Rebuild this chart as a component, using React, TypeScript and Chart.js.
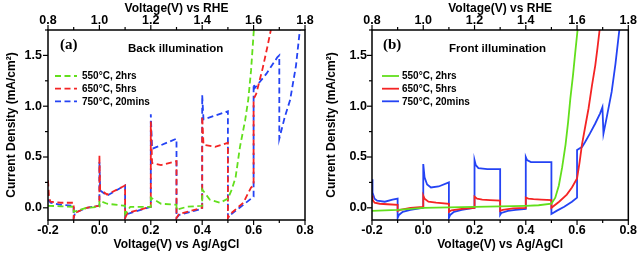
import React, { useEffect, useRef } from 'react';
import { Chart, registerables } from 'chart.js';
Chart.register(...registerables);

// ---------- shared labels / ticks ----------
const SERIES_LABELS = ['550°C, 2hrs', '650°C, 5hrs', '750°C, 20mins'];
const SERIES_COLORS = ['#62df1c', '#f42424', '#2443f4'];
const X_TICKS_AGCL = [-0.2, 0.0, 0.2, 0.4, 0.6, 0.8];
const X_TICKS_RHE = [0.8, 1.0, 1.2, 1.4, 1.6, 1.8];
const Y_TICKS = [0.0, 0.5, 1.0, 1.5];
const X_TITLE_BOTTOM = 'Voltage(V) vs Ag/AgCl';
const X_TITLE_TOP = 'Voltage(V) vs RHE';
const Y_TITLE = 'Current Density (mA/cm²)';

// ---------- (a) Back illumination ----------
const backX550 = [-0.2, -0.15, -0.1, -0.1, -0.05, 0.0, 0.0, 0.03, 0.1, 0.1, 0.12, 0.2, 0.2, 0.24, 0.3, 0.3, 0.34, 0.4, 0.4, 0.43, 0.47, 0.5, 0.515, 0.53, 0.547, 0.567, 0.579, 0.59, 0.601];
const backY550 = [0.02, 0.015, 0.01, -0.04, 0.0, 0.01, 0.07, 0.04, 0.02, -0.06, 0.01, 0.01, 0.1, 0.04, 0.03, -0.02, 0.01, 0.02, 0.18, 0.08, 0.05, 0.09, 0.18, 0.3, 0.6, 0.86, 1.06, 1.35, 1.75];
const backX650 = [-0.2, -0.196, -0.19, -0.15, -0.1, -0.1, -0.095, -0.05, 0.0, 0.0, 0.003, 0.03, 0.1, 0.1, 0.11, 0.2, 0.2, 0.205, 0.24, 0.3, 0.3, 0.31, 0.4, 0.4, 0.405, 0.45, 0.5, 0.5, 0.51, 0.56, 0.59, 0.6, 0.6, 0.61, 0.635, 0.655, 0.667];
const backY650 = [0.27, 0.1, 0.06, 0.05, 0.05, -0.1, -0.05, 0.0, 0.02, 0.52, 0.18, 0.13, 0.22, -0.1, -0.05, 0.01, 0.85, 0.44, 0.42, 0.46, -0.1, -0.06, 0.0, 0.9, 0.62, 0.6, 0.64, -0.1, -0.06, 0.05, 0.2, 0.22, 1.07, 1.12, 1.37, 1.6, 1.75];
const backX750 = [-0.2, -0.19, -0.15, -0.1, -0.1, -0.095, -0.05, 0.0, 0.0, 0.003, 0.03, 0.1, 0.1, 0.11, 0.2, 0.2, 0.205, 0.3, 0.3, 0.31, 0.4, 0.4, 0.405, 0.5, 0.5, 0.51, 0.57, 0.6, 0.6, 0.605, 0.65, 0.692, 0.7, 0.7, 0.722, 0.742, 0.765, 0.78];
const backY750 = [0.08, 0.05, 0.03, 0.02, -0.1, -0.05, 0.0, 0.02, 0.45, 0.17, 0.12, 0.22, -0.1, -0.06, 0.01, 0.92, 0.58, 0.68, -0.1, -0.07, -0.01, 1.11, 0.87, 0.95, -0.1, -0.07, 0.05, 0.11, 1.22, 1.18, 1.32, 1.48, 1.5, 0.68, 0.9, 1.06, 1.4, 1.75];

// ---------- (b) Front illumination ----------
const frontX550 = [-0.2, -0.1, 0.0, 0.1, 0.2, 0.3, 0.4, 0.45, 0.5, 0.515, 0.529, 0.542, 0.555, 0.565, 0.574, 0.584, 0.593, 0.602];
const frontY550 = [-0.03, -0.02, 0.0, 0.005, 0.01, 0.015, 0.02, 0.025, 0.04, 0.1, 0.22, 0.4, 0.62, 0.84, 1.08, 1.3, 1.53, 1.75];
const frontX650 = [-0.2, -0.198, -0.19, -0.17, -0.14, -0.1, -0.1, -0.09, -0.05, 0.0, 0.0, 0.005, 0.02, 0.05, 0.1, 0.1, 0.11, 0.15, 0.2, 0.2, 0.21, 0.23, 0.26, 0.3, 0.3, 0.31, 0.35, 0.4, 0.4, 0.41, 0.43, 0.46, 0.5, 0.5, 0.53, 0.56, 0.58, 0.6, 0.61, 0.619, 0.632, 0.645, 0.658, 0.671, 0.68, 0.688];
const frontY650 = [0.12, 0.08, 0.05, 0.04, 0.035, 0.03, -0.03, -0.02, 0.0, 0.01, 0.12, 0.09, 0.06, 0.05, 0.04, -0.04, -0.025, -0.01, 0.0, 0.11, 0.09, 0.08, 0.075, 0.07, -0.03, -0.02, -0.005, 0.0, 0.1, 0.09, 0.085, 0.08, 0.075, 0.0, 0.06, 0.13, 0.2, 0.29, 0.45, 0.62, 0.8, 0.98, 1.2, 1.4, 1.58, 1.75];
const frontX750 = [-0.2, -0.198, -0.19, -0.18, -0.15, -0.12, -0.1, -0.1, -0.095, -0.08, -0.05, 0.0, 0.0, 0.005, 0.015, 0.03, 0.06, 0.1, 0.1, 0.105, 0.12, 0.15, 0.2, 0.2, 0.205, 0.215, 0.25, 0.3, 0.3, 0.305, 0.33, 0.36, 0.4, 0.4, 0.405, 0.42, 0.5, 0.5, 0.52, 0.55, 0.58, 0.6, 0.6, 0.62, 0.632, 0.65, 0.671, 0.69, 0.699, 0.703, 0.715, 0.735, 0.75, 0.765];
const frontY750 = [0.28, 0.15, 0.09, 0.07, 0.06, 0.08, 0.09, -0.1, -0.07, -0.04, -0.02, 0.0, 0.43, 0.3, 0.23, 0.2, 0.21, 0.25, -0.1, -0.07, -0.04, -0.02, 0.0, 0.47, 0.42, 0.39, 0.38, 0.38, -0.07, -0.05, -0.03, -0.02, -0.01, 0.5, 0.47, 0.45, 0.45, -0.06, -0.03, 0.01, 0.06, 0.1, 0.57, 0.6, 0.65, 0.73, 0.83, 0.93, 0.99, 0.73, 0.88, 1.14, 1.42, 1.75];

const FONT = 'Liberation Sans';

function zip(xs: number[], ys: number[]) {
  return xs.map((x, i) => ({ x, y: ys[i] }));
}

function fmt(v: number) {
  if (Math.abs(v) < 1e-9) return '0.0';
  return Number(v).toFixed(1);
}

type PanelProps = {
  left: number;
  xs: number[][];
  ys: number[][];
  dashed: boolean;
  tag: string;
  heading: string;
  headingX: number;
  tagX: number;
  legendLine: [number, number];
  yWidth: number;
  padRight: number;
  yTickPad: number;
};

function Panel(p: PanelProps) {
  const ref = useRef<HTMLCanvasElement | null>(null);
  useEffect(() => {
    if (!ref.current) return;
    const datasets = p.xs.map((xs, i) => ({
      label: SERIES_LABELS[i],
      data: zip(xs, p.ys[i]),
      borderColor: SERIES_COLORS[i],
      backgroundColor: SERIES_COLORS[i],
      borderWidth: 1.8,
      borderDash: p.dashed ? [6, 3.5] : [],
      pointRadius: 0,
      tension: 0,
      xAxisID: 'x',
      yAxisID: 'y',
    }));

    const deco = {
      id: 'deco',
      afterDraw(chart: any) {
        const { ctx, chartArea: a, scales } = chart;
        ctx.save();
        ctx.strokeStyle = '#000';
        ctx.setLineDash([]);
        ctx.lineWidth = 1.5;
        ctx.strokeRect(a.left, a.top, a.right - a.left, a.bottom - a.top);
        ctx.lineWidth = 1.2;
        const seg = (x1: number, y1: number, x2: number, y2: number) => {
          ctx.beginPath();
          ctx.moveTo(x1, y1);
          ctx.lineTo(x2, y2);
          ctx.stroke();
        };
        for (let i = 0; i < X_TICKS_AGCL.length; i++) {
          const v = X_TICKS_AGCL[i];
          const px = scales.x.getPixelForValue(v);
          seg(px, a.bottom, px, a.bottom + 5);
          if (i < X_TICKS_AGCL.length - 1) {
            const m = scales.x.getPixelForValue((v + X_TICKS_AGCL[i + 1]) / 2);
            seg(m, a.bottom, m, a.bottom + 3);
          }
        }
        for (let i = 0; i < X_TICKS_RHE.length; i++) {
          const v = X_TICKS_RHE[i];
          const px = scales.x2.getPixelForValue(v);
          seg(px, a.top, px, a.top - 5);
          if (i < X_TICKS_RHE.length - 1) {
            const m = scales.x2.getPixelForValue((v + X_TICKS_RHE[i + 1]) / 2);
            seg(m, a.top, m, a.top - 3);
          }
        }
        for (let i = 0; i < Y_TICKS.length; i++) {
          const v = Y_TICKS[i];
          const py = scales.y.getPixelForValue(v);
          seg(a.left - 5, py, a.left, py);
          const m = scales.y.getPixelForValue(v + 0.25);
          if (m >= a.top) seg(a.left - 3, m, a.left, m);
        }
        ctx.fillStyle = '#000';
        ctx.textBaseline = 'alphabetic';
        ctx.textAlign = 'left';
        ctx.font = `bold 15px "Liberation Serif"`;
        ctx.fillText(p.tag, p.tagX, 49);
        ctx.font = `bold 11.5px "${FONT}"`;
        ctx.fillText(p.heading, p.headingX, 52);
        const rows = [76, 88.7, 101.3];
        ctx.font = `bold 10px "${FONT}"`;
        ctx.textBaseline = 'middle';
        chart.data.datasets.forEach((ds: any, i: number) => {
          ctx.strokeStyle = ds.borderColor;
          ctx.lineWidth = 1.8;
          ctx.setLineDash(ds.borderDash || []);
          seg(p.legendLine[0], rows[i], p.legendLine[1], rows[i]);
          ctx.setLineDash([]);
          ctx.fillStyle = '#000';
          ctx.fillText(ds.label, 82, rows[i] + 0.5);
        });
        ctx.restore();
      },
    };

    const tickFont = { family: FONT, size: 12.5, weight: 'bold' as const };
    const titleFont = { family: FONT, size: 12, weight: 'bold' as const };
    const chart = new Chart(ref.current, {
      type: 'line',
      data: { datasets },
      options: {
        animation: false,
        responsive: false,
        layout: { padding: { left: 0, right: p.padRight, top: 0, bottom: 0 } },
        plugins: { legend: { display: false }, tooltip: { enabled: false } },
        scales: {
          x: {
            type: 'linear',
            position: 'bottom',
            min: -0.2,
            max: 0.8,
            grid: { display: false, drawTicks: false },
            border: { display: false },
            afterBuildTicks: (s: any) => { s.ticks = X_TICKS_AGCL.map((v) => ({ value: v })); },
            afterFit: (s: any) => { s.height = 34; },
            ticks: { color: '#000', font: tickFont, padding: 3, maxRotation: 0, callback: (v: any) => fmt(Number(v)) },
            title: { display: true, text: X_TITLE_BOTTOM, color: '#000', font: titleFont, padding: { top: 0, bottom: 2 } },
          },
          x2: {
            type: 'linear',
            position: 'top',
            min: 0.8,
            max: 1.8,
            grid: { display: false, drawTicks: false },
            border: { display: false },
            afterBuildTicks: (s: any) => { s.ticks = X_TICKS_RHE.map((v) => ({ value: v })); },
            afterFit: (s: any) => { s.height = 30; },
            ticks: { color: '#000', font: tickFont, padding: 2, maxRotation: 0, callback: (v: any) => fmt(Number(v)) },
            title: { display: true, text: X_TITLE_TOP, color: '#000', font: titleFont, padding: { top: 1, bottom: 0 } },
          },
          y: {
            type: 'linear',
            position: 'left',
            min: -0.12,
            max: 1.75,
            grid: { display: false, drawTicks: false },
            border: { display: false },
            afterBuildTicks: (s: any) => { s.ticks = Y_TICKS.map((v) => ({ value: v })); },
            afterFit: (s: any) => { s.width = p.yWidth; },
            ticks: { color: '#000', font: tickFont, padding: p.yTickPad, callback: (v: any) => fmt(Number(v)) },
            title: { display: true, text: Y_TITLE, color: '#000', font: titleFont, padding: { top: 4, bottom: 0 } },
          },
        },
      },
      plugins: [deco],
    });
    return () => chart.destroy();
  }, []);
  return (
    <canvas
      ref={ref}
      width={320}
      height={254}
      style={{ position: 'absolute', left: p.left, top: 0, width: 320, height: 254 }}
    />
  );
}

export default function App() {
  return (
    <div style={{ position: 'fixed', left: 0, top: 0, width: 640, height: 254, background: '#fff' }}>
      <Panel
        left={0}
        xs={[backX550, backX650, backX750]}
        ys={[backY550, backY650, backY750]}
        dashed={true}
        tag="(a)"
        heading="Back illumination"
        headingX={128}
        tagX={60}
        legendLine={[55, 77]}
        yWidth={48}
        padRight={15}
        yTickPad={6}
      />
      <Panel
        left={320}
        xs={[frontX550, frontX650, frontX750]}
        ys={[frontY550, frontY650, frontY750]}
        dashed={false}
        tag="(b)"
        heading="Front illumination"
        headingX={129}
        tagX={63}
        legendLine={[62, 79]}
        yWidth={52}
        padRight={10}
        yTickPad={5}
      />
    </div>
  );
}
